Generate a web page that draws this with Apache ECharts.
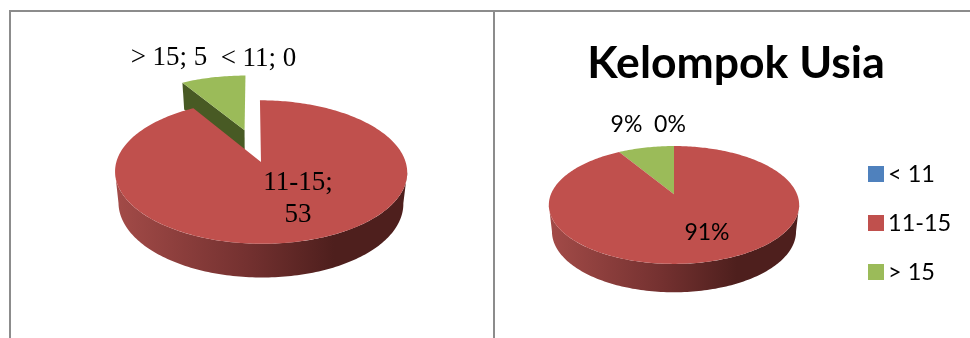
<!DOCTYPE html>
<html>
<head>
<meta charset="utf-8">
<style>html,body{margin:0;padding:0;background:#fff}#c{width:970px;height:338px}</style>
<script src="https://cdn.jsdelivr.net/npm/echarts@6/dist/echarts.min.js"></script>
</head>
<body>
<div id="c"></div>
<script>
// Age groups and respondent counts
const categories = ['< 11', '11-15', '> 15'];
const counts = [0, 53, 5];
const chartTitle = 'Kelompok Usia';

const faceColors = ['#4F81BD', '#C0504D', '#9BBB59'];
const cutColors = ['#2f4d71', '#7a3230', '#485a24'];

const total = counts.reduce((a, b) => a + b, 0);
const percent = v => Math.round(v / total * 100) + '%';

// Perspective settings of the two discs
const countPie = {
  cx: 252.5, cy: 145.7, R: 140, Rk: 65.9, p: 0.134, ex: 0.219, ey: 0.25, D: 30.1, q: 0.098,
  font: '27px "Liberation Serif"', lineHeight: 32,
  text: i => categories[i] + ';' + (i === 1 ? '\n' : ' ') + counts[i],
  anchors: [[258.5, 59], [298, 199], [169, 58]]
};
const percentPie = {
  cx: 674, cy: 194.3, R: 123.1, Rk: 57, p: 0.181, ex: 0, ey: 0, D: 26, q: 0.09,
  font: '23px Lato', lineHeight: 26,
  text: i => percent(counts[i]),
  anchors: [[670, 125], [707, 233], [626.5, 125]]
};
const xShrink = 0.975;

function sliceRange(i) {
  const before = counts.slice(0, i).reduce((a, b) => a + b, 0);
  return [before / total * 2 * Math.PI, (before + counts[i]) / total * 2 * Math.PI];
}

function makeProjector(pie, mid) {
  const a = pie.ex * Math.sin(mid), b = -pie.ey * Math.cos(mid);
  const top = (theta, r) => {
    const u = r * Math.sin(theta) + a, v = -r * Math.cos(theta) + b;
    const s = 1 / (1 - pie.p * v);
    return [pie.cx + pie.R * u * s, pie.cy + pie.Rk * v * s, v];
  };
  const low = (theta, r) => {
    const t = top(theta, r);
    return [pie.cx + (t[0] - pie.cx) * xShrink, t[1] + pie.D * (1 + pie.q * t[2])];
  };
  return { top, low, localP: pie.p / (1 - pie.p * b) };
}

function arc(fn, from, to) {
  const n = Math.max(2, Math.ceil(Math.abs(to - from) / 0.02));
  const pts = [];
  for (let k = 0; k <= n; k++) {
    const p = fn(from + (to - from) * k / n, 1);
    pts.push([p[0], p[1]]);
  }
  return pts;
}

function renderSlice(pie, i) {
  return function () {
    const [start, end] = sliceRange(i);
    const children = [];
    if (end > start) {
      const P = makeProjector(pie, (start + end) / 2);
      const apexTop = P.top(0, 0), apexLow = P.low(0, 0);
      // cut face turned towards the viewer, only seen when the disc is pulled apart
      if (pie.ex > 0 && start > Math.PI && start < 2 * Math.PI) {
        const r0 = P.top(start, 1), r1 = P.low(start, 1);
        children.push({
          type: 'polygon',
          shape: { points: [[apexTop[0], apexTop[1]], [r0[0], r0[1]], r1, apexLow] },
          style: { fill: cutColors[i] }
        });
      }
      // front wall between the two silhouette points of the disc
      const w0 = Math.acos(-P.localP), w1 = 2 * Math.PI - w0;
      const from = Math.max(start, w0), to = Math.min(end, w1);
      if (to > from) {
        const pts = arc(P.top, from, to).concat(arc(P.low, from, to).reverse());
        children.push({
          type: 'polygon',
          shape: { points: pts },
          style: {
            fill: new echarts.graphic.LinearGradient(1, 0, 0, 0, [
              { offset: 0, color: '#4e1f1d' },
              { offset: 0.25, color: '#4e1f1d' },
              { offset: 0.55, color: '#743130' },
              { offset: 1, color: '#a34b48' }
            ])
          }
        });
      }
      // top face
      children.push({
        type: 'polygon',
        shape: { points: [[apexTop[0], apexTop[1]]].concat(arc(P.top, start, end)) },
        style: { fill: faceColors[i] }
      });
    }
    children.push({
      type: 'text',
      style: {
        text: pie.text(i), x: pie.anchors[i][0], y: pie.anchors[i][1],
        font: pie.font, lineHeight: pie.lineHeight, fill: '#000',
        align: 'center', verticalAlign: 'middle'
      },
      z2: 10
    });
    return { type: 'group', children };
  };
}

const series = [];
[countPie, percentPie].forEach(pie => {
  [2, 0, 1].forEach(i => {
    series.push({
      type: 'custom',
      name: categories[i],
      coordinateSystem: 'none',
      silent: true,
      animation: false,
      itemStyle: { color: faceColors[i] },
      data: [[counts[i]]],
      renderItem: renderSlice(pie, i)
    });
  });
});

const frameColor = '#8c8c8c';
const chart = echarts.init(document.getElementById('c'), null, { renderer: 'canvas' });
chart.setOption({
  animation: false,
  backgroundColor: '#fff',
  title: {
    text: chartTitle, left: 731, top: 36, textAlign: 'center',
    textStyle: { fontFamily: 'Lato', fontWeight: 'bold', fontSize: 44.5, color: '#000' }
  },
  legend: {
    data: categories, orient: 'vertical', left: 863, top: 157,
    icon: 'rect', itemWidth: 16, itemHeight: 16, itemGap: 25, selectedMode: false,
    textStyle: { fontFamily: 'Lato', fontSize: 23.5, color: '#000', padding: [0, 0, 0, -1] }
  },
  graphic: [
    { type: 'rect', shape: { x: 9, y: 10, width: 961, height: 2 }, style: { fill: frameColor }, silent: true },
    { type: 'rect', shape: { x: 9, y: 10, width: 2, height: 328 }, style: { fill: frameColor }, silent: true },
    { type: 'rect', shape: { x: 493, y: 10, width: 2, height: 328 }, style: { fill: frameColor }, silent: true }
  ],
  series
});
</script>
</body>
</html>
